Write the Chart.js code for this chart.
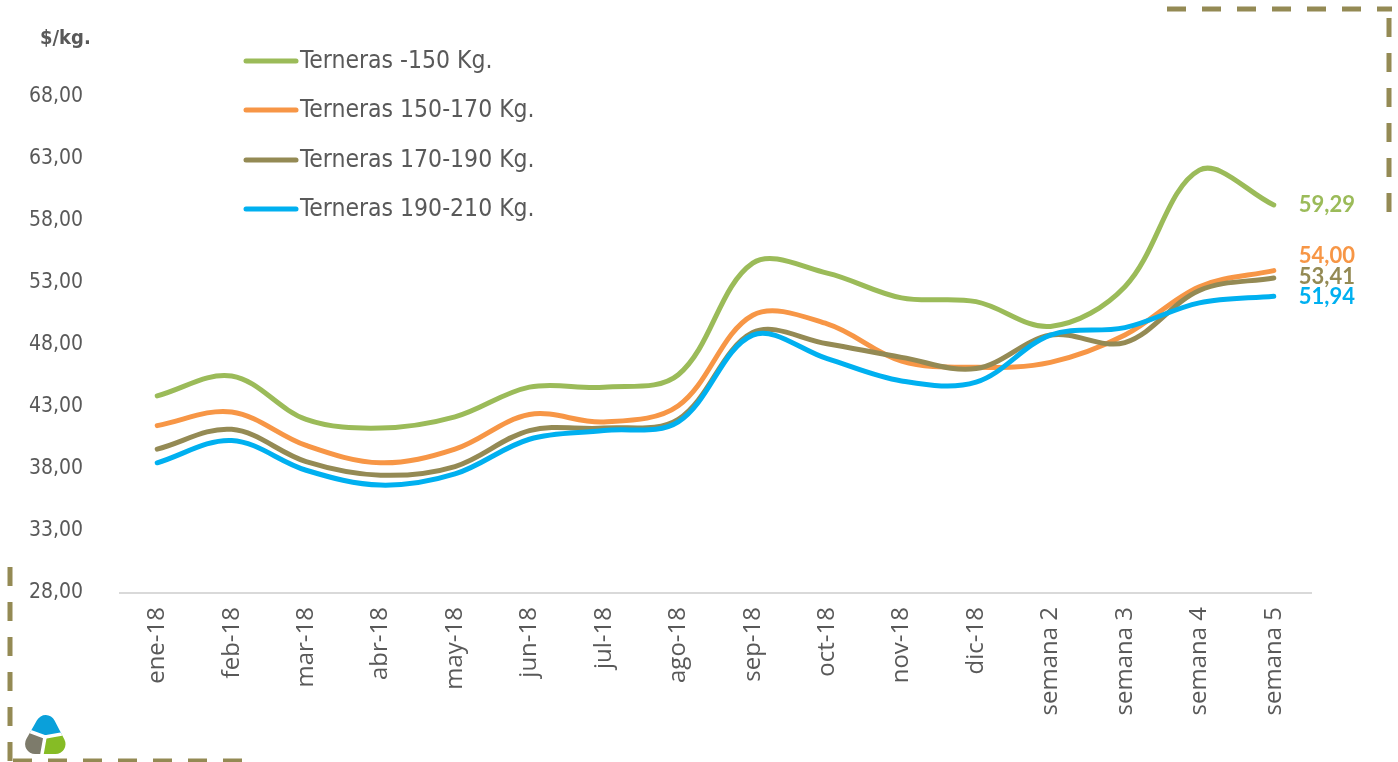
<!DOCTYPE html>
<html>
<head>
<meta charset="utf-8">
<script src="https://cdn.jsdelivr.net/npm/chart.js@4.4.0/dist/chart.umd.min.js"></script>
<style>
  html, body { margin: 0; padding: 0; background: #ffffff; }
  #wrap { width: 1398px; height: 762px; position: relative; }
</style>
</head>
<body>
<div id="wrap"><canvas id="c" width="1398" height="762"></canvas></div>
<script>
const categories = ["ene-18","feb-18","mar-18","abr-18","may-18","jun-18","jul-18","ago-18","sep-18","oct-18","nov-18","dic-18","semana 2","semana 3","semana 4","semana 5"];
const seriesNames = ["Terneras -150 Kg.","Terneras 150-170 Kg.","Terneras 170-190 Kg.","Terneras 190-210 Kg."];
const terneras150 = [43.9, 45.5, 42.0, 41.3, 42.2, 44.6, 44.6, 45.6, 54.6, 53.8, 51.8, 51.5, 49.5, 52.7, 62.1, 59.29];
const terneras150_170 = [41.5, 42.6, 39.9, 38.5, 39.6, 42.4, 41.8, 43.1, 50.4, 49.7, 46.7, 46.2, 46.6, 48.8, 52.7, 54.00];
const terneras170_190 = [39.6, 41.2, 38.6, 37.5, 38.2, 41.1, 41.3, 42.0, 49.0, 48.1, 47.0, 46.1, 48.8, 48.2, 52.4, 53.41];
const terneras190_210 = [38.5, 40.3, 37.9, 36.7, 37.6, 40.4, 41.1, 41.8, 48.8, 46.9, 45.1, 45.0, 48.8, 49.4, 51.4, 51.94];
const yTicks = [28, 33, 38, 43, 48, 53, 58, 63, 68];
const yUnit = "$/kg.";

const colors = ["#9BBB59", "#F79646", "#948A54", "#00B0F0"];
const allSeries = [terneras150, terneras150_170, terneras170_190, terneras190_210];
const fmt = v => v.toFixed(2).replace('.', ',');

const decorPlugin = {
  id: 'decor',
  afterDraw(chart) {
    const ctx = chart.ctx;
    ctx.save();
    // unit label
    ctx.fillStyle = '#595959';
    ctx.font = 'bold 20px "DejaVu Sans Condensed", "DejaVu Sans", sans-serif';
    ctx.textBaseline = 'middle';
    ctx.textAlign = 'left';
    ctx.fillText(yUnit, 40, 39);

    // legend
    const rowsY = [61, 110, 160, 209];
    seriesNames.forEach((name, i) => {
      ctx.strokeStyle = colors[i];
      ctx.lineWidth = 5;
      ctx.lineCap = 'round';
      ctx.beginPath();
      ctx.moveTo(246, rowsY[i]);
      ctx.lineTo(296, rowsY[i]);
      ctx.stroke();
      ctx.fillStyle = '#595959';
      ctx.font = '24.5px "DejaVu Sans Condensed", "DejaVu Sans", sans-serif';
      ctx.textBaseline = 'middle';
      ctx.fillText(name, 300, rowsY[i] + 1);
    });

    // end value labels
    const dy = [0, -15, -1, 1];
    ctx.font = 'bold 22px Lato, "Noto Sans", sans-serif';
    ctx.textAlign = 'left';
    ctx.textBaseline = 'middle';
    allSeries.forEach((arr, i) => {
      const meta = chart.getDatasetMeta(i);
      const pt = meta.data[arr.length - 1];
      ctx.fillStyle = colors[i];
      ctx.fillText(fmt(arr[arr.length - 1]), pt.x + 25, pt.y + dy[i]);
    });

    // dashed decorative borders
    ctx.strokeStyle = '#948A54';
    ctx.lineWidth = 5;
    ctx.lineCap = 'butt';
    ctx.setLineDash([19, 16]);
    ctx.beginPath();
    ctx.moveTo(1167, 9); ctx.lineTo(1392, 9);
    ctx.stroke();
    ctx.beginPath();
    ctx.moveTo(1389, 18); ctx.lineTo(1389, 216);
    ctx.stroke();
    ctx.beginPath();
    ctx.moveTo(10, 567); ctx.lineTo(10, 762);
    ctx.stroke();
    ctx.beginPath();
    ctx.moveTo(13, 761); ctx.lineTo(242, 761);
    ctx.stroke();
    ctx.setLineDash([]);

    // logo: rounded triangle split in three coloured sectors
    const cx = 45, cy = 737;
    ctx.save();
    ctx.beginPath();
    const P = [[46, 704], [18, 754], [72, 754]];
    const r = 10;
    for (let k = 0; k < 3; k++) {
      const a = P[k], b = P[(k + 1) % 3], c = P[(k + 2) % 3];
      if (k === 0) ctx.moveTo((a[0] + b[0]) / 2, (a[1] + b[1]) / 2);
      ctx.arcTo(b[0], b[1], (b[0] + c[0]) / 2, (b[1] + c[1]) / 2, r);
    }
    ctx.closePath();
    ctx.clip();
    const sector = (a0, a1, col) => {
      ctx.beginPath();
      ctx.moveTo(cx, cy);
      ctx.arc(cx, cy, 45, a0 * Math.PI / 180, a1 * Math.PI / 180);
      ctx.closePath();
      ctx.fillStyle = col;
      ctx.fill();
    };
    sector(-160, -10, '#0AA0DA');
    sector(-10, 100, '#86BC25');
    sector(100, 200, '#7D7B6B');
    ctx.strokeStyle = '#ffffff';
    ctx.lineWidth = 3.5;
    ctx.lineCap = 'round';
    [-10, 100, 200].forEach(a => {
      ctx.beginPath();
      ctx.moveTo(cx, cy);
      ctx.lineTo(cx + 45 * Math.cos(a * Math.PI / 180), cy + 45 * Math.sin(a * Math.PI / 180));
      ctx.stroke();
    });
    ctx.restore();
    ctx.restore();
  }
};

const datasets = allSeries.map((arr, i) => ({
  label: seriesNames[i],
  data: arr,
  borderColor: colors[i],
  backgroundColor: colors[i],
  borderWidth: 5,
  pointRadius: 0,
  pointHoverRadius: 0,
  tension: 0.35,
  borderCapStyle: 'round',
  borderJoinStyle: 'round',
  fill: false,
  order: 3 - i
}));

new Chart(document.getElementById('c'), {
  type: 'line',
  data: { labels: categories, datasets },
  options: {
    responsive: false,
    animation: false,
    layout: { padding: { top: 97, right: 87, bottom: 0, left: 0 } },
    plugins: { legend: { display: false }, tooltip: { enabled: false } },
    scales: {
      x: {
        type: 'category',
        offset: true,
        grid: { display: false, drawTicks: false },
        border: { display: true, color: '#D9D9D9', width: 2 },
        ticks: {
          autoSkip: false, minRotation: 90, maxRotation: 90, padding: 14,
          color: '#595959',
          font: { family: '"Open Sans", sans-serif', size: 24 }
        },
        afterFit: s => { s.height = 169; }
      },
      y: {
        min: yTicks[0],
        max: yTicks[yTicks.length - 1],
        afterBuildTicks: s => { s.ticks = yTicks.map(v => ({ value: v })); },
        grid: { display: false, drawTicks: false },
        border: { display: false },
        ticks: {
          padding: 37,
          color: '#595959',
          font: { family: '"DejaVu Sans Condensed", "DejaVu Sans", sans-serif', size: 21 },
          callback: v => fmt(v)
        },
        afterFit: s => { s.width = 120; }
      }
    }
  },
  plugins: [decorPlugin]
});
</script>
</body>
</html>
